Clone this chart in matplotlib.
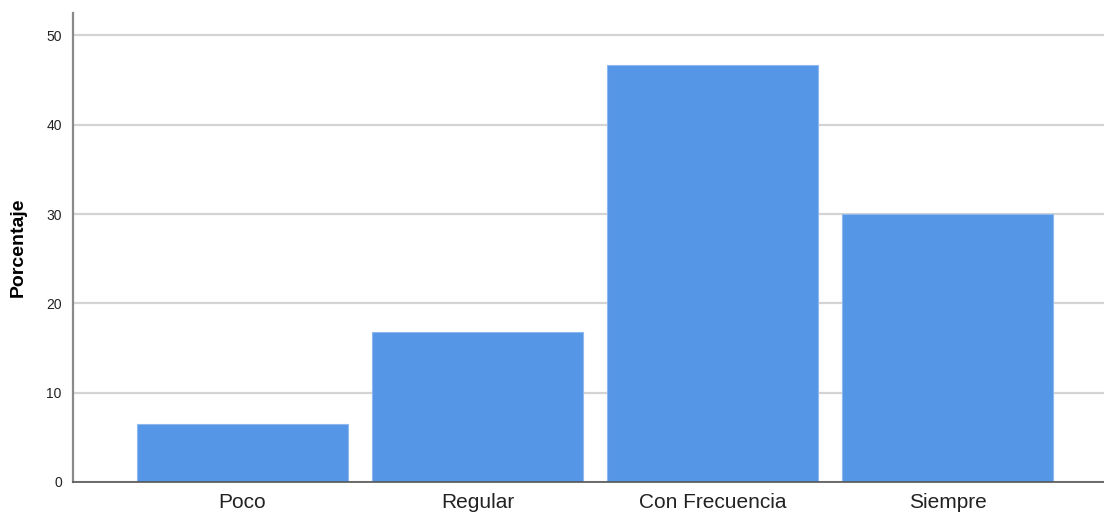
import numpy as np
import matplotlib
matplotlib.use('Agg')
import matplotlib.pyplot as plt

plt.rcParams['font.family'] = ['Liberation Sans', 'DejaVu Sans']

categorias = ['Poco', 'Regular', 'Con Frecuencia', 'Siempre']
porcentaje = [6.5, 16.8, 46.7, 30.0]
yticks = [0, 10, 20, 30, 40, 50]

fig = plt.figure(figsize=(11.04, 5.12), dpi=100)
ax = fig.add_axes([0.0661, 0.0586, 1 - 0.0661, 0.916])

x = np.arange(len(categorias))
ax.bar(x, porcentaje, width=0.898, color='#5596E6', edgecolor='#8FB8EE',
       linewidth=0.8, zorder=3)

ax.set_xlim(-0.721, 3.666)
ax.set_ylim(0, 52.5)
ax.set_yticks(yticks)
ax.set_xticks(x)
ax.set_xticklabels(categorias, fontsize=15, color='#222222')
ax.tick_params(axis='y', length=0, pad=8, labelsize=10, labelcolor='#222222')
ax.tick_params(axis='x', length=0, pad=8)
ax.yaxis.grid(True, color='#D3D3D3', linewidth=1.6, zorder=0)
ax.set_ylabel('Porcentaje', fontsize=14, fontweight='bold', labelpad=14)

for s in ['top', 'right']:
    ax.spines[s].set_visible(False)
ax.spines['left'].set_color('#8A8A8A')
ax.spines['left'].set_linewidth(1.6)
ax.spines['bottom'].set_color('#555555')
ax.spines['bottom'].set_linewidth(1.2)
ax.spines['bottom'].set_zorder(4)

fig.savefig('out.png', dpi=100)
